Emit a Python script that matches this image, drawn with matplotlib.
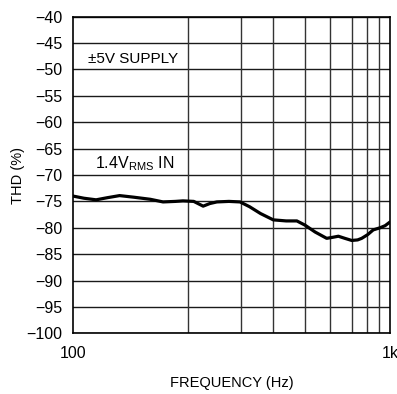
import numpy as np
import matplotlib
matplotlib.use("Agg")
import matplotlib.pyplot as plt

plt.rcParams['font.family'] = ['Liberation Sans', 'DejaVu Sans']
plt.rcParams['mathtext.fontset'] = 'custom'
plt.rcParams['mathtext.rm'] = 'Liberation Sans'

# THD vs frequency
freq = [100, 108, 118, 128, 140, 155, 175, 192, 210, 222, 240, 257, 270, 284,
        310, 336, 360, 390, 428, 470, 508, 539, 580, 631, 660, 687,
        720, 757, 790, 814, 850, 885, 930, 965, 1000]
thd = [-74.0, -74.4, -74.7, -74.3, -73.9, -74.2, -74.6, -75.1, -75.0, -74.9,
       -75.0, -75.9, -75.4, -75.1, -75.0, -75.1, -76.0, -77.3, -78.5, -78.7,
       -78.7, -79.5, -80.8, -82.0, -81.8, -81.6, -82.0, -82.4, -82.3, -82.0,
       -81.3, -80.4, -80.0, -79.6, -78.9]

yticks = list(range(-100, -35, 5))
vgrid = [230, 338, 428, 540, 647, 757, 848, 925]

fig = plt.figure(figsize=(3.97, 3.94), dpi=100)
ax = fig.add_axes([0.1847, 0.154, 0.7977, 0.8036])

ax.set_xscale('log')
ax.set_xlim(100, 1000)
ax.set_ylim(-100, -40)

for y in yticks:
    ax.axhline(y, color='#1a1a1a', lw=1.0, zorder=1)
for x in vgrid:
    ax.axvline(x, color='#333333', lw=1.0, zorder=1)

ax.plot(freq, thd, color='black', lw=2.3, zorder=3, solid_capstyle='round')

ax.set_yticks(yticks)
ax.set_yticklabels([str(v).replace('-', '\u2212') for v in yticks])
ax.set_xticks([100, 1000])
ax.set_xticklabels(['100', '1k'])
ax.minorticks_off()
ax.tick_params(length=0, labelsize=11.5)
ax.tick_params(axis='y', pad=8)
ax.tick_params(axis='x', pad=9)

for s in ax.spines.values():
    s.set_color('black')
    s.set_linewidth(1.2)

ax.set_xlabel('FREQUENCY (Hz)', fontsize=10.5, labelpad=11)
ax.set_ylabel('THD (%)', fontsize=10.5, labelpad=1)

ax.text(0.045, 0.867, '\u00b15V SUPPLY', transform=ax.transAxes, fontsize=11,
        va='center', ha='left')
ax.text(0.067, 0.535, r'1.4V$_{\mathregular{RMS}}$ IN', transform=ax.transAxes,
        fontsize=11.5, va='center', ha='left')

fig.savefig('out.png', dpi=100)
